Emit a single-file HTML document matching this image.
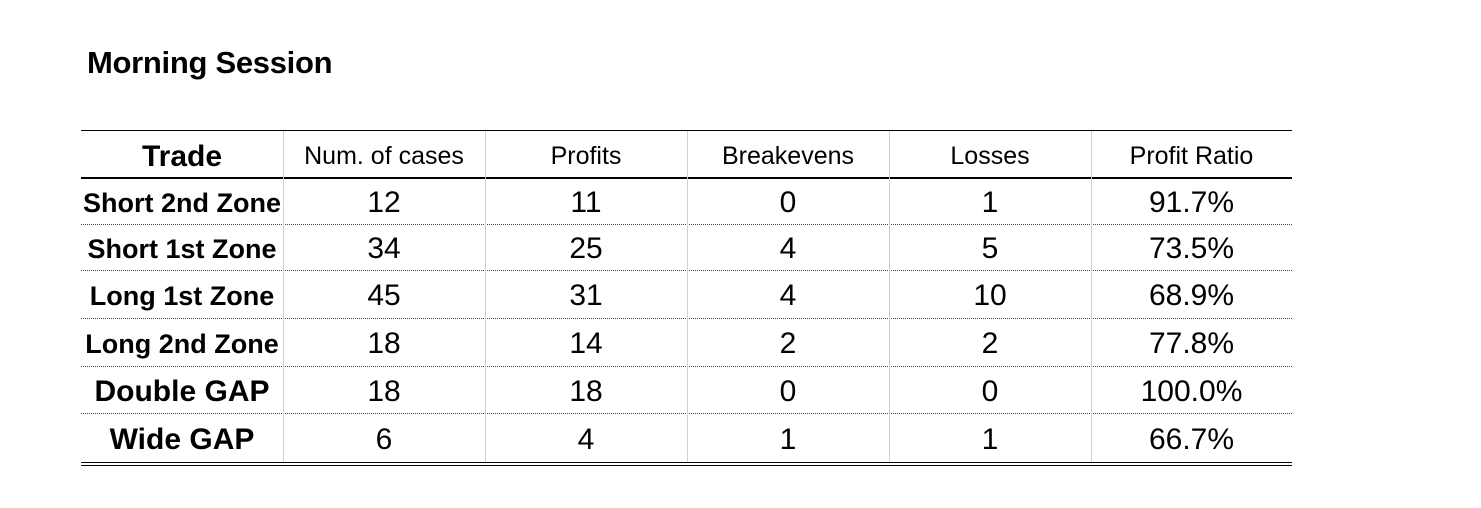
<!DOCTYPE html>
<html><head><style>
body{margin:0;width:1481px;height:508px;background:#fff;position:relative;font-family:"Liberation Sans",sans-serif;color:#000;overflow:hidden}
.t{position:absolute;left:87px;top:45px;font-size:31px;font-weight:bold;letter-spacing:-0.3px}
.c{position:absolute;display:flex;align-items:center;justify-content:center;white-space:nowrap;padding-top:4px;box-sizing:border-box}
.h{position:absolute;background:#000}
.d{position:absolute;height:0;border-top:1px dotted #444}
.v{position:absolute;width:1px;background:#d0d0d0}
</style></head><body>
<div class="t">Morning Session</div>
<div class="h" style="left:81px;width:1211px;top:130px;height:1px"></div>
<div class="h" style="left:81px;width:1211px;top:177px;height:2px"></div>
<div class="h" style="left:81px;width:1211px;top:462px;height:1px"></div>
<div class="h" style="left:81px;width:1211px;top:465px;height:1px"></div>
<div class="d" style="left:81px;width:1211px;top:224px"></div>
<div class="d" style="left:81px;width:1211px;top:270px"></div>
<div class="d" style="left:81px;width:1211px;top:318px"></div>
<div class="d" style="left:81px;width:1211px;top:366px"></div>
<div class="d" style="left:81px;width:1211px;top:413px"></div>
<div id="g"></div>
<script>
var xs=[81,283,485,687,889,1091,1292];
var ys=[131,178,224,270,318,366,413,462];
var rows=[["Trade","Num. of cases","Profits","Breakevens","Losses","Profit Ratio"],
["Short 2nd Zone","12","11","0","1","91.7%"],
["Short 1st Zone","34","25","4","5","73.5%"],
["Long 1st Zone","45","31","4","10","68.9%"],
["Long 2nd Zone","18","14","2","2","77.8%"],
["Double GAP","18","18","0","0","100.0%"],
["Wide GAP","6","4","1","1","66.7%"]];
var h="";
for(var i=1;i<6;i++)h+='<div class="v" style="left:'+xs[i]+'px;top:131px;height:331px"></div>';
rows.forEach(function(r,ri){r.forEach(function(t,ci){
var fs,fw="normal";
if(ri==0){fs=ci==0?30:25;fw=ci==0?"bold":"normal";}
else if(ci==0){fs=ri>=5?30:27;fw="bold";}
else fs=30;
h+='<div class="c" style="left:'+xs[ci]+'px;width:'+(xs[ci+1]-xs[ci])+'px;top:'+ys[ri]+'px;height:'+(ys[ri+1]-ys[ri])+'px;font-size:'+fs+'px;font-weight:'+fw+';">'+t+'</div>';
});});
document.getElementById("g").innerHTML=h;
</script>
</body></html>
